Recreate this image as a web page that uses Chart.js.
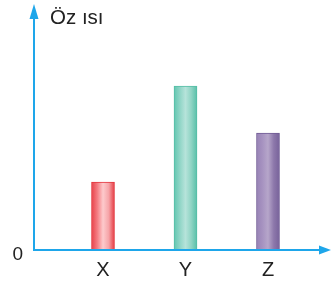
<!DOCTYPE html>
<html>
<head>
<meta charset="utf-8">
<script src="https://cdn.jsdelivr.net/npm/chart.js@4/dist/chart.umd.min.js"></script>
<style>
html,body{margin:0;padding:0;background:#fff;}
#wrap{width:332px;height:285px;position:relative;}
</style>
</head>
<body>
<div id="wrap"><canvas id="c" width="332" height="285"></canvas></div>
<script>
const categories = ['X', 'Y', 'Z'];
const values = [68, 164, 117];
const yTickLabels = ['0'];
const yTitle = 'Öz ısı';

const palettes = [
  ['#e8424a', '#f47c82', '#fdcacc', '#f6a4a8', '#e63a42'],
  ['#62c6b1', '#8fd5c6', '#b6e3da', '#8fd4c4', '#58c0a9'],
  ['#9883b6', '#a692c0', '#b6a6ca', '#8d78ab', '#77629a']
];
const borders = ['#e3363e', '#55bea6', '#6f5a94'];
const AXIS = '#1ea6ea';
const FONT = "'Liberation Sans', Arial, sans-serif";

function barGradient(ctx) {
  const chart = ctx.chart;
  const i = ctx.dataIndex;
  if (!chart.chartArea || i === undefined) return palettes[0][0];
  const x = chart.scales.x.getPixelForValue(i + 1);
  const w = 23;
  const g = chart.ctx.createLinearGradient(x - w / 2, 0, x + w / 2, 0);
  const p = palettes[i];
  g.addColorStop(0, p[0]);
  g.addColorStop(0.25, p[1]);
  g.addColorStop(0.5, p[2]);
  g.addColorStop(0.75, p[3]);
  g.addColorStop(1, p[4]);
  return g;
}

const axesPlugin = {
  id: 'arrowAxes',
  afterDatasetsDraw(chart) {
    const { ctx, chartArea } = chart;
    const L = chartArea.left, B = chartArea.bottom;
    ctx.save();
    ctx.strokeStyle = AXIS;
    ctx.fillStyle = AXIS;
    ctx.lineWidth = 2;
    ctx.beginPath();
    ctx.moveTo(L, B);
    ctx.lineTo(L, 14);
    ctx.moveTo(L - 1, B);
    ctx.lineTo(chart.width - 12, B);
    ctx.stroke();
    // y arrow
    ctx.beginPath();
    ctx.moveTo(L, 4);
    ctx.lineTo(L - 4.5, 19);
    ctx.lineTo(L + 4.5, 19);
    ctx.closePath();
    ctx.fill();
    // x arrow
    ctx.beginPath();
    ctx.moveTo(chart.width - 1, B);
    ctx.lineTo(chart.width - 13, B - 4.5);
    ctx.lineTo(chart.width - 13, B + 4.5);
    ctx.closePath();
    ctx.fill();
    // title
    ctx.fillStyle = '#222';
    ctx.font = '20.5px ' + FONT;
    ctx.textAlign = 'left';
    ctx.textBaseline = 'alphabetic';
    ctx.fillText(yTitle, L + 16, 24);
    ctx.restore();
  }
};

new Chart(document.getElementById('c'), {
  type: 'bar',
  data: {
    datasets: [{
      data: values.map((v, i) => ({ x: i + 1, y: v })),
      backgroundColor: barGradient,
      borderColor: values.map((v, i) => borders[i]),
      borderWidth: { left: 1, right: 1, top: 1, bottom: 0 },
      barThickness: 23
    }]
  },
  options: {
    responsive: false,
    animation: false,
    layout: { padding: { left: 0, right: 10, top: 10, bottom: 0 } },
    plugins: { legend: { display: false }, tooltip: { enabled: false } },
    scales: {
      x: {
        type: 'linear',
        offset: false,
        min: 0.1636,
        max: 3.6545,
        grid: { display: false, drawTicks: false, offset: false },
        border: { display: false },
        afterBuildTicks(s) { s.ticks = categories.map((c, i) => ({ value: i + 1 })); },
        afterFit(s) { s.height = 35; s.paddingLeft = 0; s.paddingRight = 0; },
        ticks: {
          padding: 8,
          color: '#222',
          font: { family: FONT, size: 20 },
          maxRotation: 0,
          autoSkip: false,
          callback: (v) => categories[Math.round(v) - 1]
        }
      },
      y: {
        min: 0,
        max: 240,
        grid: { display: false, drawTicks: false },
        border: { display: false },
        afterBuildTicks(s) { s.ticks = yTickLabels.map(t => ({ value: Number(t) })); },
        afterFit(s) { s.width = 34; s.paddingTop = 0; s.paddingBottom = 0; },
        ticks: {
          padding: 11,
          labelOffset: 5,
          color: '#222',
          font: { family: FONT, size: 19 },
          callback: (v, i) => yTickLabels[i]
        }
      }
    }
  },
  plugins: [axesPlugin]
});
</script>
</body>
</html>
